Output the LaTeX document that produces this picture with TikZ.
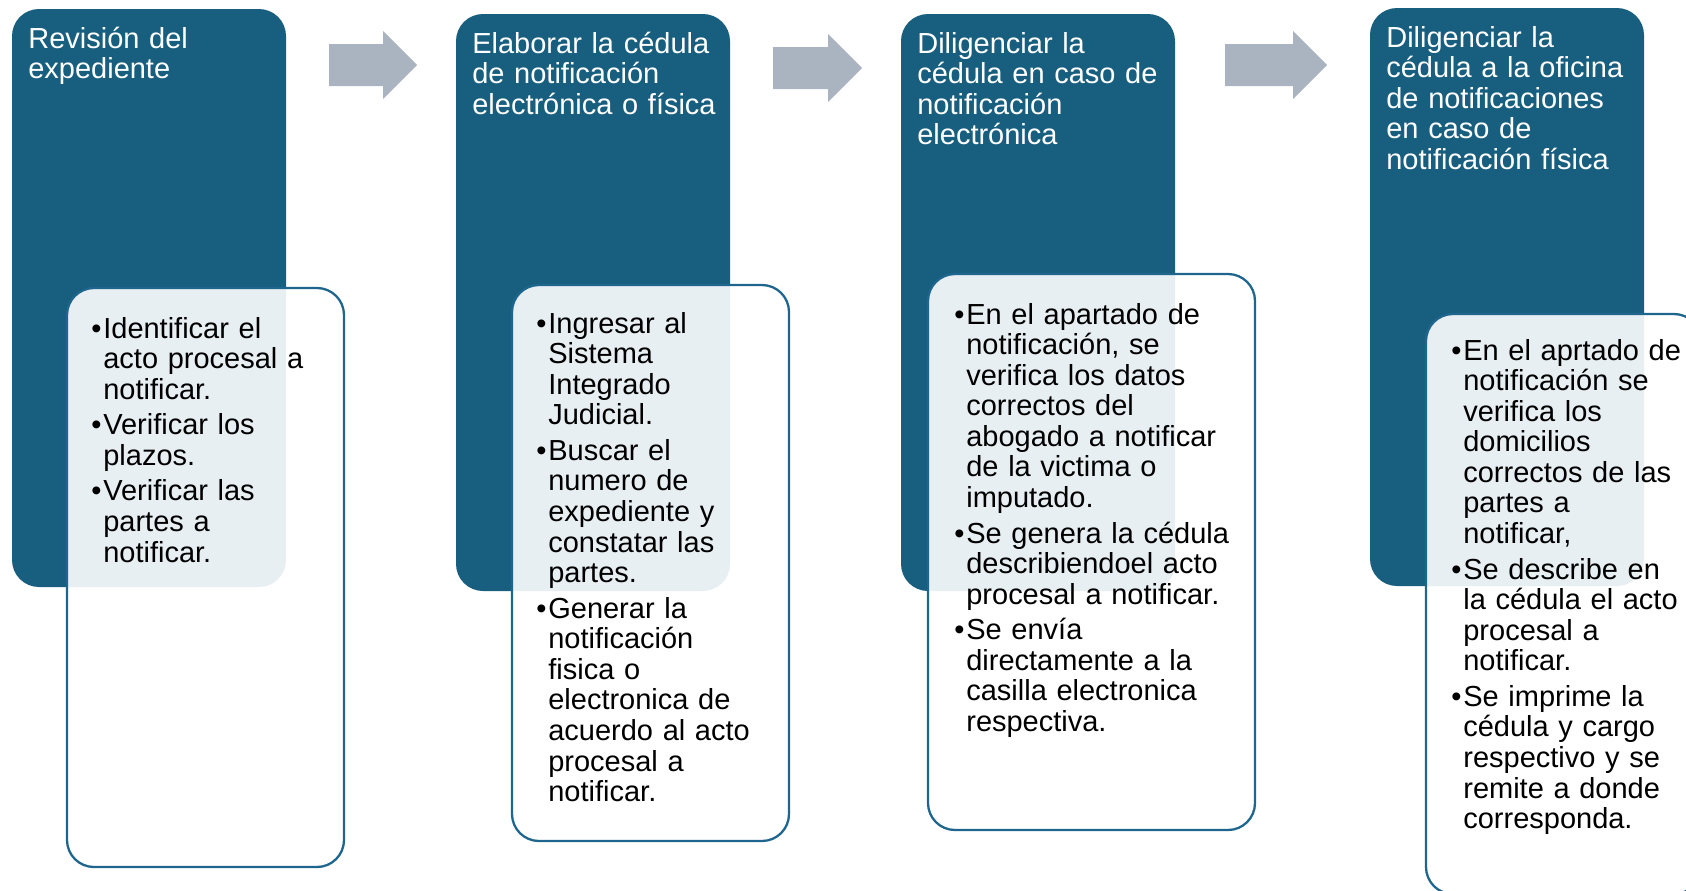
\documentclass[tikz,border=0pt]{standalone}
\usepackage{fontspec}
\setmainfont{Liberation Sans}
\definecolor{stepblue}{RGB}{24,94,127}
\definecolor{edgeblue}{RGB}{31,102,142}
\definecolor{arrowgray}{RGB}{169,180,192}
\newcommand{\stepitem}[1]{\setlength{\parskip}{2.85pt}\hangindent=0.24cm\hangafter=1\noindent\makebox[0.24cm][l]{•}#1\par}

\begin{document}
\begin{tikzpicture}[
    x=0.02cm, y=-0.02cm,
    stepfill/.style={fill=stepblue, rounded corners=0.54cm},
    notefill/.style={fill=white, fill opacity=0.9, draw=edgeblue, line width=1.3pt, rounded corners=0.54cm},
    arrowfill/.style={fill=arrowgray},
    steptitle/.style={anchor=base west, inner sep=0pt, text width=5.4cm, align=left, text=white, font=\fontsize{16.5}{17.4}\selectfont},
    stepnote/.style={anchor=base west, inner sep=0pt, text width=6cm, align=left, text=black, font=\fontsize{16.5}{17.4}\selectfont}
]
    \useasboundingbox (0,0) rectangle (1686,890);
    \clip (0,0) rectangle (1686,890);
    \foreach \xa/\ya/\xb/\yb in {12/9/286/587, 456/14/730/591, 901/14/1175/591, 1370/8/1644/586}
        \fill[stepfill] (\xa,\ya) rectangle (\xb,\yb);
    \foreach \xa/\ya/\xb/\yb in {67/288/344/867, 512/285/789/841, 928/274/1255/830, 1426/314/1701/894}
        \draw[notefill] (\xa,\ya) rectangle (\xb,\yb);
    \foreach \xa/\xb/\xc/\yc in {329/383/417/65, 773/828/862/68, 1225/1293/1327/65}
        \fill[arrowfill] (\xa,\yc-21) -- (\xb,\yc-21) -- (\xb,\yc-34) -- (\xc,\yc)
            -- (\xb,\yc+34) -- (\xb,\yc+21) -- (\xa,\yc+21) -- cycle;

    \node[steptitle] (revision) at (28,48) {Revisión del\\expediente};
    \node[steptitle] (elaborar) at (472,53) {Elaborar la cédula\\de notificación\\electrónica o física};
    \node[steptitle] (electronica) at (917,53) {Diligenciar la\\cédula en caso de\\notificación\\electrónica};
    \node[steptitle] (fisica) at (1386,47) {Diligenciar la\\cédula a la oficina\\de notificaciones\\en caso de\\notificación física};

    \node[stepnote] (revision-note) at (91,338) {%
        \stepitem{Identificar el\newline acto procesal a\newline notificar.}
        \stepitem{Verificar los\newline plazos.}
        \stepitem{Verificar las\newline partes a\newline notificar.}};
    \node[stepnote] (elaborar-note) at (536,333) {%
        \stepitem{Ingresar al\newline Sistema\newline Integrado\newline Judicial.}
        \stepitem{Buscar el\newline numero de\newline expediente y\newline constatar las\newline partes.}
        \stepitem{Generar la\newline notificación\newline fisica o\newline electronica de\newline acuerdo al acto\newline procesal a\newline notificar.}};
    \node[stepnote] (electronica-note) at (954,324) {%
        \stepitem{En el apartado de\newline notificación, se\newline verifica los datos\newline correctos del\newline abogado a notificar\newline de la victima o\newline imputado.}
        \stepitem{Se genera la cédula\newline describiendoel acto\newline procesal a notificar.}
        \stepitem{Se envía\newline directamente a la\newline casilla electronica\newline respectiva.}};
    \node[stepnote] (fisica-note) at (1451,360) {%
        \stepitem{En el aprtado de\newline notificación se\newline verifica los\newline domicilios\newline correctos de las\newline partes a\newline notificar,}
        \stepitem{Se describe en\newline la cédula el acto\newline procesal a\newline notificar.}
        \stepitem{Se imprime la\newline cédula y cargo\newline respectivo y se\newline remite a donde\newline corresponda.}};
\end{tikzpicture}
\end{document}
